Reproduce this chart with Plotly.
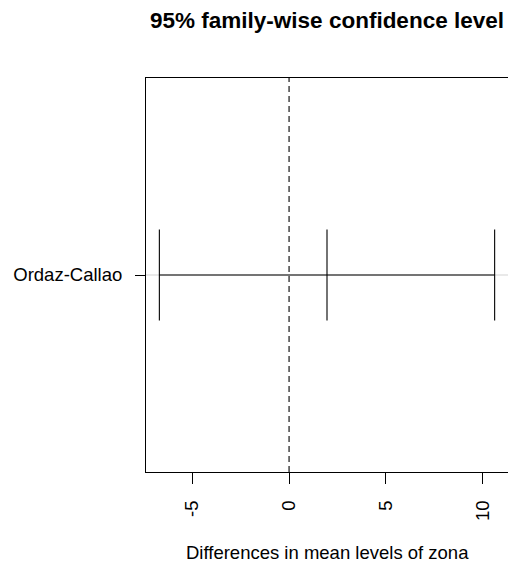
import plotly.graph_objects as go

comparisons = ["Ordaz-Callao"]
diff = [1.96]
lwr = [-6.70]
upr = [10.62]
x_ticks = [-5, 0, 5, 10]
x_range = [-7.39, 11.31]
y_pos = [1]

fig = go.Figure()
line = dict(color="black", width=1.1)
for i, name in enumerate(comparisons):
    y = y_pos[i]
    fig.add_trace(go.Scatter(x=[lwr[i], upr[i]], y=[y, y], mode="lines", line=line,
                             showlegend=False, hoverinfo="skip"))
    for v in (lwr[i], diff[i], upr[i]):
        fig.add_trace(go.Scatter(x=[v, v], y=[y - 0.1, y + 0.1], mode="lines", line=line,
                                 showlegend=False, hoverinfo="skip"))
    fig.add_shape(type="line", xref="paper", x0=0, x1=1, yref="y", y0=y, y1=y,
                  line=dict(color="lightgray", width=1), layer="below")

fig.add_shape(type="line", xref="x", x0=0, x1=0, yref="paper", y0=0, y1=1,
              line=dict(color="black", width=1.1, dash="6px,4px"))

font = "Liberation Sans, Arial, sans-serif"
fig.update_layout(
    width=508, height=565,
    margin=dict(l=146, r=0, t=78, b=93),
    plot_bgcolor="white", paper_bgcolor="white",
    font=dict(family=font, size=18.5, color="black"),
    title=dict(text="<b>95% family-wise confidence level</b>", font=dict(size=22.5, family=font, color="black"),
               x=0.5, xref="paper", xanchor="center", y=1 - 20 / 565, yref="container", yanchor="middle"),
    xaxis=dict(range=x_range, tickvals=x_ticks, ticktext=[str(t) for t in x_ticks], tickangle=-90,
               ticks="outside", ticklen=11, tickwidth=1.1, tickcolor="black",
               showline=True, linecolor="black", linewidth=1.1, mirror=True,
               showgrid=False, zeroline=False, ticklabelstandoff=9,
               tickfont=dict(size=18.5)),
    yaxis=dict(range=[0.568, 1.432], tickvals=y_pos, ticktext=comparisons,
               ticks="outside", ticklen=10, tickwidth=1.1, tickcolor="black",
               showline=True, linecolor="black", linewidth=1.1, mirror=True,
               showgrid=False, zeroline=False, ticklabelstandoff=9,
               tickfont=dict(size=18.5)),
)
fig.add_annotation(text="Differences in mean levels of zona", xref="paper", yref="paper",
                   x=0.5, y=0, xanchor="center", yanchor="middle", yshift=-80, showarrow=False,
                   font=dict(size=18.5))

fig.write_html("out.html", config={"displayModeBar": False},
               post_script="document.body.style.margin='0';document.body.style.overflow='hidden';")
